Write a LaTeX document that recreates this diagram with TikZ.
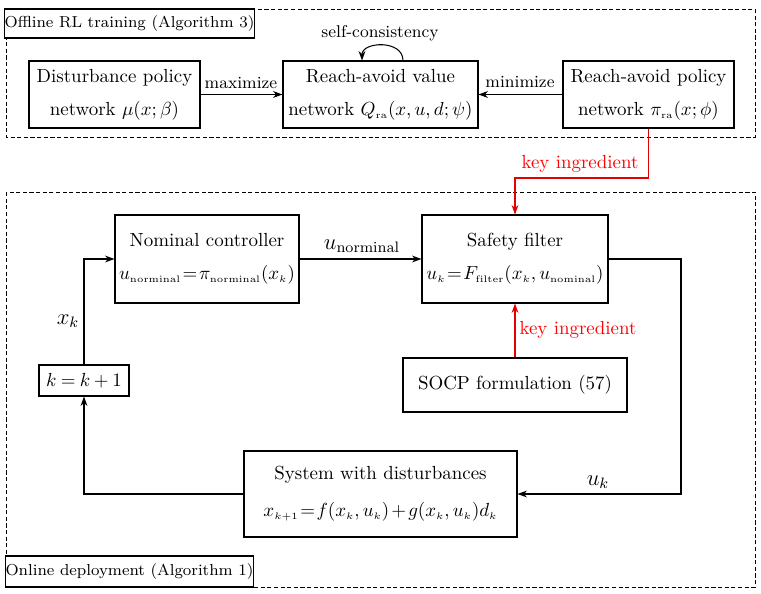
\documentclass[tikz,border=0pt]{standalone}
\usetikzlibrary{arrows.meta,calc}
\DeclareMathSizes{10}{10}{5.5}{5}
\newcommand\pxu{0.528}
\tikzset{
  bx/.style args={#1/#2}{draw, line width=0.55pt, inner sep=0pt, align=center,
    minimum width=#1*\pxu pt, minimum height=#2*\pxu pt},
  frame/.style={draw, line width=0.5pt, dash pattern=on 2.2pt off 1.3pt},
  conn/.style={line width=0.55pt, -{Stealth[length=5pt,width=3.6pt]}},
  redconn/.style={conn, draw=red!90!black},
  lbl/.style={font=\small, inner sep=1pt},
  redlbl/.style={text=red, inner sep=1pt},
  ttl/.style={font=\fontsize{8.4}{10}\selectfont},
}
\begin{document}
\thickmuskip=1.5mu plus 1mu
\medmuskip=2mu plus 1mu
\begin{tikzpicture}[x=0.528pt, y=-0.528pt]
\useasboundingbox (0,0) rectangle (761,594);
% frames
\draw[frame] (6,9) rectangle (755,137);
\draw[frame] (6,192) rectangle (755,587);
\node[bx=247/29, ttl, fill=white] (t1) at (129.5,23.5) {Offline RL training (Algorithm 3)};
\node[bx=247/31, ttl, fill=white] (t2) at (129.5,571.5) {Online deployment (Algorithm 1)};
% top boxes
\node[bx=171/67] (dist) at (114.5,94.5) {Disturbance policy\\[5.4pt] network $\mu(x;\beta)$};
\node[bx=195/67] (val) at (380.5,94.5) {Reach-avoid value\\[5.4pt] network $Q_{\mathrm{ra}}(x,u,d;\psi)$};
\node[bx=171/67] (pol) at (648.5,94.5) {Reach-avoid policy\\[5.4pt] network $\pi_{\mathrm{ra}}(x;\phi)$};
% bottom boxes
\node[bx=184/88] (nom) at (207,259) {Nominal controller\\[5.4pt] $u_{\mathrm{norminal}}=\pi_{\mathrm{norminal}}(x_k)$};
\node[bx=186/88] (safe) at (515,259) {Safety filter\\[5.4pt] $u_k=F_{\mathrm{filter}}(x_k,u_{\mathrm{nominal}})$};
\node[bx=90/31] (kbox) at (84,380.5) {\thickmuskip=4mu\medmuskip=3.5mu$k=k+1$};
\node[bx=224/54] (socp) at (515,385) {SOCP formulation (57)};
\node[bx=273/86] (sys) at (380.5,494) {System with disturbances\\[7.5pt] $x_{k+1}=f(x_k,u_k)+g(x_k,u_k)d_k$};
% top connectors
\draw[conn] (dist.east) -- (val.west);
\draw[conn] (pol.west) -- (val.west -| val.east);
\node[lbl] (maxl) at (241,83) {maximize};
\node[lbl] (minl) at (520,82) {minimize};
\draw[conn] ($(val.north)+(22.5,0)$) .. controls ($(val.north)+(22.5,-21)$) and ($(val.north)+(-18.5,-19)$) .. ($(val.north)+(-18.5,0)$);
\node[lbl] (scl) at (380,33) {self-consistency};
% red
\coordinate (rk) at (580,178);
\draw[redconn] (pol.south) |- (rk) -| (safe.north);
\node[redlbl] (kil1) at (580,164) {key ingredient};
\draw[redconn] (socp.north) -- (safe.south);
\node[redlbl] (kil2) at (578,330) {key ingredient};
% loop
\draw[conn] (kbox.north) |- (nom.west);
\draw[conn] (nom.east) -- (safe.west);
\coordinate (rc) at (681,494);
\draw[conn] (safe.east) -| (rc) -- (sys.east);
\draw[conn] (sys.west) -| (kbox.south);
\node[inner sep=1pt, font=\large] (unl) at (362,246) {$u_{\mathrm{norminal}}$};
\node[inner sep=1pt, font=\large] (xkl) at (68,321) {$x_k$};
\node[inner sep=1pt, font=\large] (ukl) at (598,482) {$u_k$};
\end{tikzpicture}
\end{document}
